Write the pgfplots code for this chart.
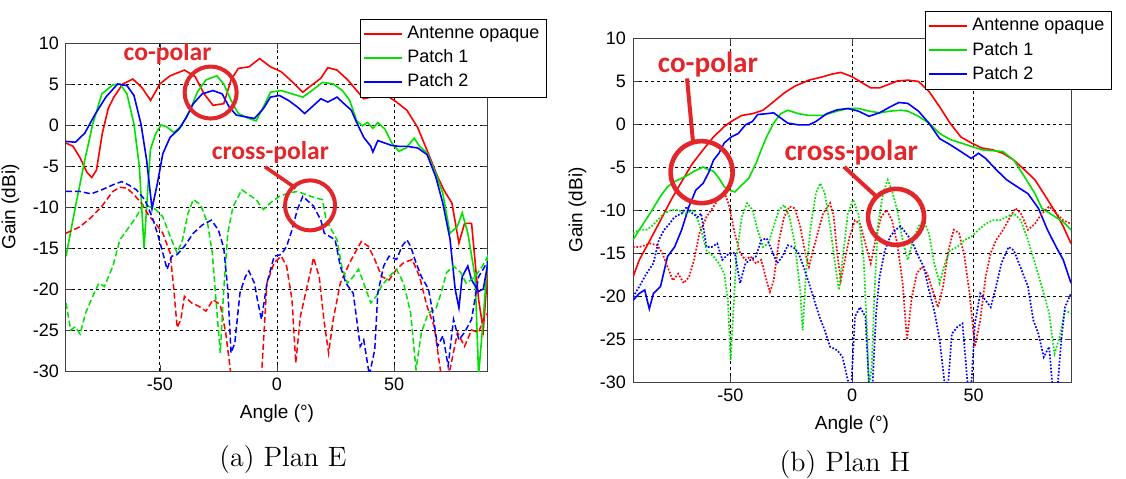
\documentclass[border=0pt]{standalone}
\usepackage{fontspec}
\usepackage{pgfplots}
\pgfplotsset{compat=1.18}
\newfontfamily\arial{Liberation Sans}
\newfontfamily\calibri{Carlito}
\definecolor{annred}{RGB}{226,38,42}
\definecolor{mred}{RGB}{255,0,0}
\definecolor{mgreen}{RGB}{0,225,0}
\definecolor{mblue}{RGB}{0,0,255}
\pgfplotsset{
 plotstyle/.style={
  scale only axis,
  xmin=-90, xmax=90, ymin=-30, ymax=10,
  xtick={-50,0,50}, ytick={-30,-25,...,10},
  grid=major,
  major grid style={black, line width=0.4pt, dash pattern=on 1.5pt off 1.5pt},
  tick align=inside,
  major tick length=3pt,
  axis line style={black!75, line width=0.5pt},
  tick style={black!75},
  tick label style={font=\arial\fontsize{9}{10}\selectfont},
  /pgf/number format/assume math mode=true,
  label style={font=\arial\fontsize{9.5}{11}\selectfont},
  xlabel={Angle (°)}, ylabel={Gain (dBi)},
  legend cell align=left,
  legend style={draw=black, fill=white, font=\arial\fontsize{9}{11}\selectfont, inner sep=1.5pt, row sep=0pt},
  legend image code/.code={\draw[##1, line width=0.9pt] (0pt,0pt)--(19pt,0pt);},
  every axis plot/.append style={line width=0.8pt},
 },
 dsh/.style={line width=0.75pt, dash pattern=on 3pt off 1.5pt},
 dtt/.style={line width=0.85pt, dash pattern=on 0.85pt off 0.85pt},
}
\begin{document}
\begin{tikzpicture}
\path[use as bounding box] (0,0) rectangle (563pt,239pt);
% ---------------- (a) Plan E ----------------
\begin{axis}[plotstyle, at={(33pt,53.5pt)}, anchor=south west, width=211pt, height=164pt,
  legend style={at={(0.697,1.073)}, anchor=north west}]
\addplot[mred] coordinates {(-90,-2.2)(-87,-2.6)(-84,-4)(-81,-5.8)(-79,-6.4)(-77,-5.5)(-74.5,-1)(-72,2)(-69.6,3.4)(-65.8,5)(-61.5,5.6)(-57.7,4.6)(-53.9,3.0)(-50,5)(-45.6,6)(-39.5,6.7)(-34.9,5.9)(-31.1,3.8)(-27.3,2.4)(-22.7,2.6)(-19.6,5.5)(-16.5,6.9)(-11.9,7.1)(-7.4,8.1)(-2.8,7.1)(1.8,6.5)(6.4,5.3)(11,4.0)(14.1,4.7)(18.7,5.7)(21.7,7.0)(25.6,6.7)(30.2,5.5)(34,4.2)(37,3.2)(43,3.6)(47.8,3.4)(51,2.8)(55.4,1.8)(60,-0.3)(64.6,-3.5)(68.5,-6.3)(71.5,-8.1)(74.6,-9.5)(77.6,-14.4)(80,-12)(83,-12)(86,-21.3)(88,-25)(90,-17.2)};
\addlegendentry{Antenne opaque}
\addplot[mgreen] coordinates {(-90,-16)(-86,-10)(-82,-4.3)(-78.6,0.1)(-74.7,3.8)(-70,4.9)(-67,5)(-64,3.8)(-61,0.1)(-58.7,-5.1)(-56.7,-15)(-55.6,-10)(-54,-3)(-51.8,-1.1)(-49.5,0)(-47.2,-0.2)(-44,-0.9)(-41,-0.2)(-37.1,1.8)(-34,4.0)(-30.3,5.5)(-25.7,6)(-22.7,5)(-19.6,3.0)(-16.5,1.4)(-12,0.8)(-8.9,0.5)(-5.8,2.2)(-2.8,4.0)(1.8,4.2)(6.4,3.8)(11,3.4)(14.9,4.2)(19.4,5.2)(24,5)(27.9,4.2)(31,3.0)(34,0.5)(36.4,-0.1)(38.6,0.3)(40.9,-0.4)(43,0.3)(46,-0.5)(49,-2.2)(52,-3.2)(55.1,-2.8)(58.5,-1.6)(60.8,-2.6)(64,-3.4)(67.7,-5.9)(70.7,-8.3)(73.8,-13.2)(76.9,-12.4)(79,-10.7)(81.4,-13.2)(84.5,-18.5)(86,-30.5)(87.6,-25)(90,-15.8)};
\addlegendentry{Patch 1}
\addplot[mblue] coordinates {(-90,-2)(-86,-2.1)(-82,-1)(-77.8,1.2)(-73,3.4)(-68,5)(-64,4.8)(-61,3.6)(-58,0.1)(-55.6,-4.3)(-53.3,-10.2)(-51,-7.1)(-48.7,-3.5)(-45.6,-1.5)(-41.8,-0.5)(-38.7,0.9)(-35.7,2.6)(-31.9,3.8)(-27.3,4.2)(-23.4,3.8)(-20.4,2.2)(-17.3,1.2)(-13.5,1.0)(-9.6,0.8)(-5.8,2)(-2.8,3.4)(1,3.6)(4.9,3.0)(8.7,2.2)(11.8,1.4)(14.9,2.2)(18.7,3.2)(21.7,2.8)(25.6,3.4)(28.6,2.6)(31.7,1.8)(34,0.3)(37,-1.5)(40,-2.6)(40.9,-3.3)(43,-1.9)(46,-2.2)(49,-2.5)(52,-2.6)(55.4,-2.6)(60,-2.8)(64,-3.6)(67.7,-6.3)(70.7,-9.5)(73.8,-13.9)(76,-20)(77.6,-22.3)(79,-18.5)(81.4,-17.2)(83,-18.9)(86,-20.3)(88,-20)(90,-16.8)};
\addlegendentry{Patch 2}
\addplot[mred, dsh, forget plot] coordinates {(-90,-13.2)(-84,-12.4)(-79,-11.2)(-74.7,-9.9)(-70,-8.1)(-67,-7.6)(-64,-7.7)(-61,-8.5)(-57.9,-9.5)(-54.8,-11)(-51.8,-12)(-48.7,-13.2)(-45.6,-15.6)(-44,-20)(-42.6,-24.7)(-41,-23.7)(-39.5,-20.9)(-36.4,-21.7)(-33.4,-22.1)(-30.3,-22.7)(-27.3,-21.3)(-24.2,-21.9)(-21.9,-25.3)(-19.6,-30.5)(-6.6,-30.5)(-4.3,-19.3)(-1.2,-16.8)(1.8,-16)(4.1,-17.2)(6.4,-21.3)(8,-29)(10,-23.3)(12.6,-20)(15.6,-16.2)(18,-18.5)(20,-23.7)(22,-27.8)(24,-23.7)(27,-19.3)(31,-16.8)(34,-15.2)(36,-14.2)(39,-14.8)(41.7,-16.4)(44.7,-18.5)(47.8,-18.9)(51,-17.6)(54,-16.8)(57.7,-16.4)(60.8,-18.5)(64,-22.1)(67,-24.5)(70,-30.5)(73.8,-29.8)(77,-25.3)(80,-27)(83,-25)(86,-25.3)(88,-23.7)(90,-22.9)};
\addplot[mgreen, dsh, forget plot] coordinates {(-90,-21.7)(-88,-25)(-86,-24.6)(-84,-25.5)(-81.6,-22.9)(-78.6,-20.9)(-76,-19.3)(-73.6,-19.7)(-70,-17.2)(-67,-14)(-63,-12.4)(-60,-11.2)(-57,-9.6)(-54,-10)(-51.8,-10.3)(-48.7,-11.2)(-45,-14)(-42.6,-15.6)(-40.3,-14)(-38,-10.8)(-35.7,-9.1)(-32.6,-9.7)(-29.6,-12)(-27.6,-15.6)(-25.7,-22.5)(-24.2,-27.8)(-22.7,-20)(-21,-13.2)(-18.8,-10)(-15,-7.9)(-12,-8.5)(-8.9,-9.1)(-5.8,-10.3)(-2.8,-9.5)(1,-8.7)(4.9,-8.3)(8.7,-8.1)(12.6,-8.5)(16.4,-8.9)(19.4,-9.1)(21,-11.6)(23.3,-12.8)(25.6,-14)(27.6,-17.2)(30,-19.3)(32.5,-18.5)(34.8,-17.6)(37,-19.3)(40,-21.7)(42.3,-20.9)(44.7,-19.6)(47.8,-18.5)(51,-17.6)(54,-19.3)(57,-22.9)(59.3,-29.8)(61.6,-25.3)(64.6,-22.9)(67.7,-22.5)(70,-20.5)(72.3,-18)(75.3,-17.2)(78.4,-18)(80.7,-19.3)(84.5,-18.5)(87.6,-17.2)(90,-16)};
\addplot[mblue, dsh, forget plot] coordinates {(-90,-8.1)(-84,-8.1)(-79.3,-8.4)(-74.7,-7.9)(-70,-7.3)(-66.3,-6.9)(-63.3,-7.3)(-60,-7.9)(-56.4,-9.1)(-53.3,-11.2)(-51,-13.2)(-48.7,-15.6)(-46.9,-17.6)(-44.9,-16)(-42.6,-15.8)(-39.5,-14.8)(-35.7,-13.2)(-31.9,-12.2)(-28,-11.6)(-25,-12.8)(-22.7,-15)(-21,-20)(-19.6,-27.8)(-18,-26.6)(-15.8,-20.5)(-13.5,-18.5)(-12,-17.8)(-9.6,-19.3)(-8.1,-21.7)(-6.6,-23.7)(-4.3,-19.3)(-1.2,-16)(1.8,-15.8)(4.1,-14.8)(6.4,-12.8)(8.7,-10.3)(11,-8.7)(13.3,-9.3)(15.6,-9.9)(18.7,-11.6)(20.2,-13.2)(22.5,-13.6)(24.8,-14)(27,-17.2)(29.4,-19.3)(32.5,-20.5)(34,-23.7)(35.5,-27)(37,-26.2)(39.4,-30.5)(41.7,-27.4)(43,-20.5)(45.5,-17.2)(47.8,-16)(51,-16.4)(53.3,-14.8)(55.4,-14)(57,-14.8)(59.3,-16.8)(61.6,-18.5)(64.6,-20)(66.2,-22.5)(68.5,-27)(70.8,-25.7)(73,-29.4)(75.3,-23.7)(77.6,-26.2)(80,-25.3)(83,-23.7)(86,-18.5)(90,-16.6)};
\draw[annred, line width=2pt] (axis cs:-28.3,3.96) circle[radius=13pt];
\draw[annred, line width=2pt] (axis cs:14.1,-9.8) circle[radius=12.5pt];
\draw[annred, line width=1.8pt] (axis cs:-5.1,-5.1) -- (axis cs:8,-7.7);
\node[annred, font=\calibri\bfseries\fontsize{12.8}{14}\selectfont] at (axis cs:-46.7,8.7) {co-polar};
\node[annred, font=\calibri\bfseries\fontsize{12.8}{14}\selectfont] at (axis cs:-2.8,-3.4) {cross-polar};
\end{axis}
% ---------------- (b) Plan H ----------------
\begin{axis}[plotstyle, at={(316.5pt,48pt)}, anchor=south west, width=219pt, height=172pt,
  legend style={at={(0.667,1.078)}, anchor=north west}]
\addplot[mred] coordinates {(-90,-17.8)(-87.4,-15.8)(-83,-13.5)(-78.7,-11.2)(-74.3,-8.8)(-70,-6.7)(-65.6,-4.6)(-61.2,-3)(-56.9,-1.5)(-52.5,-0.3)(-49.6,0.3)(-45.3,1.0)(-40.9,1.2)(-36.6,1.6)(-32.2,2.6)(-27.9,3.6)(-23.5,4.4)(-17.7,5.1)(-11.9,5.5)(-8.3,5.8)(-4.6,6.0)(0,5.5)(4.1,4.8)(7.7,4.2)(11.3,4.2)(15,4.6)(18.6,5.0)(22.9,5.1)(27.3,4.95)(31.6,3.8)(36,2.0)(40.3,0.1)(44.7,-1.5)(49,-2.2)(53.4,-2.8)(57.8,-3.0)(62,-3.4)(66.5,-4.2)(70.8,-5.3)(75.2,-6.5)(79.5,-8.4)(83.9,-10.4)(86.8,-11.9)(90,-13.9)};
\addlegendentry{Antenne opaque}
\addplot[mgreen] coordinates {(-90,-13.5)(-87.4,-12.3)(-83,-10.4)(-78.7,-8.4)(-75.8,-7.3)(-72.9,-6.7)(-68.5,-6.1)(-64.9,-5.5)(-61.2,-5.0)(-59,-5.3)(-56.9,-5.5)(-54.7,-6.3)(-52.5,-7.3)(-50.4,-7.7)(-48.2,-7.9)(-45.3,-7.1)(-42.4,-6.3)(-39.5,-4.6)(-37.3,-3.0)(-35.1,-1.5)(-32.2,0.1)(-29.3,1.2)(-26.4,1.6)(-22,1.2)(-17.7,1.0)(-11.9,1.0)(-6.1,1.5)(-1.7,1.8)(2.6,1.8)(7,1.5)(11.3,1.3)(15.7,1.5)(20,1.6)(22.9,1.5)(27.3,0.9)(31.6,0.1)(36,-1.1)(40.3,-1.8)(44.7,-2.2)(49,-2.6)(53.4,-3.0)(57.8,-3.1)(62,-3.2)(66.5,-4.2)(70.8,-6.1)(75.2,-8.1)(78,-9.8)(82.4,-10.6)(86.8,-11.4)(90,-12.3)};
\addlegendentry{Patch 1}
\addplot[mblue] coordinates {(-90,-20.5)(-87.4,-19.7)(-85.2,-19.3)(-83.3,-21.5)(-81.6,-19.7)(-78.7,-18.9)(-75.8,-15.4)(-72.9,-14.3)(-70,-12.3)(-67,-9.6)(-64.2,-7.7)(-61.2,-6.9)(-59,-5.7)(-56.9,-4.2)(-54.7,-3.4)(-52.5,-2.2)(-49.6,-1.5)(-46.7,-1.1)(-43.8,-0.1)(-40.9,0.3)(-38.8,1.1)(-35.1,1.2)(-32.2,1.3)(-29.3,0.7)(-26.4,0.1)(-22,-0.1)(-17.7,-0.1)(-14.8,0.3)(-10.4,1.2)(-6.1,1.65)(-1.7,1.8)(2.6,1.5)(7,0.9)(11.3,1.3)(15.7,2.0)(19.3,2.5)(22.9,2.4)(27.3,1.5)(31.6,0.1)(36,-1.7)(40.3,-2.4)(44.7,-3.2)(49,-4.0)(52,-3.4)(54.9,-4.0)(59.2,-5.3)(63.6,-6.5)(67.9,-7.3)(72.3,-8.1)(76.6,-9.8)(80.3,-12.3)(83.9,-14.3)(86.8,-15.8)(90,-18.5)};
\addlegendentry{Patch 2}
\addplot[mred, dtt, forget plot] coordinates {(-90,-14.3)(-87.4,-14.3)(-83,-13.9)(-80,-14.1)(-78,-15)(-75.8,-16.6)(-73.6,-18.2)(-71.4,-17.4)(-69.2,-18.5)(-67,-17.8)(-64.9,-15.8)(-62.7,-12.7)(-59.8,-10.8)(-56.9,-9.6)(-54,-8.4)(-51.8,-8.4)(-50.4,-9.6)(-48.2,-12.7)(-46,-15)(-43.8,-15.8)(-41.7,-15.4)(-39.5,-16.2)(-37.3,-15.8)(-35.1,-18.2)(-33.7,-19.5)(-32.2,-18.2)(-30,-13.5)(-27.9,-10.8)(-25.7,-9.6)(-23.5,-9.8)(-21.3,-11.9)(-19.2,-15)(-17.7,-16.6)(-16.3,-15)(-14.1,-12.7)(-11.9,-10.4)(-9,-9.2)(-7.5,-10.8)(-6.1,-15)(-4.6,-18.2)(-3.2,-16.2)(-1,-13.1)(1.2,-11.2)(3.3,-11.6)(5.5,-13.9)(7.7,-16.2)(9.9,-13.1)(12,-10.8)(14.2,-10)(16.4,-11.2)(18.6,-13.9)(20.8,-18.5)(22.6,-25.1)(24.4,-20.5)(26.6,-17.4)(28.7,-16.6)(30.9,-17.4)(33.1,-19.3)(35.3,-21.3)(37.4,-18.9)(39.6,-14.7)(41.8,-12.3)(44,-12.7)(46.2,-15.4)(48.3,-19.7)(50.5,-25.9)(52.7,-22.8)(54.9,-17.8)(57,-15)(59.2,-13.5)(62.1,-12.3)(65,-10.8)(67.2,-9.8)(69.4,-10.4)(72.3,-12.3)(75.2,-11.6)(78,-10.4)(81,-9.6)(83.9,-10.4)(86.8,-11.2)(90,-11.6)};
\addplot[mgreen, dtt, forget plot] coordinates {(-90,-12.7)(-87.4,-12.3)(-84.5,-12.3)(-82.3,-11.9)(-80,-11.2)(-77.2,-10.4)(-74.3,-10)(-71.4,-10)(-68.5,-10.4)(-64.9,-10)(-62,-12.3)(-59.8,-14.7)(-56.9,-15.4)(-54.7,-16.2)(-52.5,-17.4)(-51,-20.5)(-49.9,-27.5)(-48.9,-22.4)(-47.5,-15.4)(-45.3,-10.8)(-43.1,-9.2)(-40.9,-10)(-38.8,-12.3)(-36.6,-14.3)(-34.4,-13.9)(-32.2,-11.9)(-30,-10)(-27.9,-9.4)(-25.7,-10.8)(-23.5,-13.9)(-21.3,-19.3)(-20.3,-24)(-18.9,-17.4)(-17,-11.9)(-14.8,-8)(-13,-6.9)(-11.2,-8)(-9,-11.9)(-6.8,-16.6)(-5.4,-19.3)(-3.9,-15.8)(-1.7,-10.4)(0.4,-8.8)(2.6,-10.4)(4.8,-15.8)(6.2,-24.4)(7,-30.5)(8.1,-28.3)(9.1,-20.5)(10.6,-11.9)(12.8,-8)(14.7,-6.5)(16.4,-7.7)(18.6,-10)(20.8,-13.5)(22.9,-15.8)(25.1,-13.5)(27.3,-11.9)(29.5,-11.2)(31.6,-12.7)(33.8,-16.2)(36,-18.5)(38.2,-16.2)(40.3,-14.7)(43.3,-14.3)(46.2,-13.5)(49,-13.1)(52,-12.3)(54.9,-11.6)(57.8,-11.2)(60.7,-11.2)(63.6,-10.8)(66.5,-10.4)(69.4,-11.2)(72.3,-13.5)(75.2,-16.2)(78,-18.9)(81,-22)(83.2,-26.7)(85.3,-24.8)(87.5,-21.7)(90,-22)};
\addplot[mblue, dtt, forget plot] coordinates {(-90,-20.1)(-87.4,-18.9)(-84.5,-17.4)(-81.6,-16.2)(-79.4,-13.5)(-77.2,-12.3)(-75,-11.6)(-72.9,-10.8)(-70,-10.4)(-67.8,-9.6)(-65.6,-10.4)(-63.4,-10.8)(-62,-10.4)(-59.8,-14.3)(-57.6,-14.3)(-55.4,-13.9)(-53.3,-15.8)(-50.4,-15)(-48.2,-15)(-46,-18.5)(-43.8,-16.2)(-41.7,-15.8)(-39.5,-15.4)(-37.3,-13.5)(-35.1,-13.3)(-32.9,-14.7)(-30.8,-16.2)(-28.6,-15.4)(-26.4,-14.1)(-24.2,-14.3)(-22,-15)(-19.9,-16.6)(-17.7,-18.5)(-15.5,-20.5)(-13.4,-22.4)(-11.2,-24)(-9,-25.9)(-6.1,-26.3)(-3.9,-27.1)(-1.7,-29.8)(-0.3,-30.5)(1.2,-22.4)(3.3,-21.3)(5.5,-22.4)(7,-30.5)(8.4,-30.5)(9.9,-22)(11.3,-17.8)(13.5,-14.7)(15.7,-13.1)(17.9,-12.3)(20,-11.9)(22.2,-12.7)(24.4,-13.5)(27.3,-15.4)(29.5,-16.6)(31.6,-19.3)(33.8,-21.7)(36,-25.1)(38.2,-30.5)(39.6,-29.8)(41,-24.4)(43.3,-23.6)(45.4,-23.2)(47.6,-30.5)(49,-30.5)(50.5,-23.2)(52.7,-19.7)(54.9,-20.5)(57,-21.3)(59.2,-18.9)(61.4,-16.2)(64.3,-14.3)(66.5,-14.7)(68.6,-16.2)(70.8,-17.8)(72.3,-18.9)(74.5,-22.8)(76.6,-24.4)(78.8,-27.1)(81,-25.9)(82.4,-30.5)(84.5,-30.5)(86,-25.1)(87.5,-21.3)(90,-19.7)};
\draw[annred, line width=2.3pt] (axis cs:-61.8,-5.6) circle[radius=15.5pt];
\draw[annred, line width=2.3pt] (axis cs:18.1,-10.8) circle[radius=14pt];
\draw[annred, line width=2pt] (axis cs:-67.8,5.3) -- (axis cs:-65.3,-2.2);
\draw[annred, line width=2pt] (axis cs:-3.2,-5.0) -- (axis cs:9.9,-8.4);
\node[annred, font=\calibri\bfseries\fontsize{14.6}{16}\selectfont] at (axis cs:-59.2,6.9) {co-polar};
\node[annred, font=\calibri\bfseries\fontsize{14.6}{16}\selectfont] at (axis cs:-0.3,-3.3) {cross-polar};
\end{axis}
\node[font=\fontsize{14}{16}\selectfont] at (141.5pt,9pt) {(a) Plan E};
\node[font=\fontsize{14}{16}\selectfont] at (422.5pt,6.5pt) {(b) Plan H};
\end{tikzpicture}
\end{document}
